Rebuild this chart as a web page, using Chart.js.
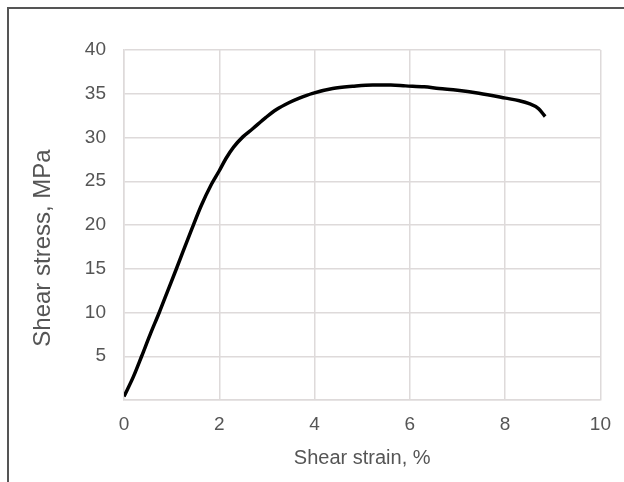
<!DOCTYPE html>
<html>
<head>
<meta charset="utf-8">
<script src="https://cdn.jsdelivr.net/npm/chart.js@4/dist/chart.umd.min.js"></script>
<style>
html,body{margin:0;padding:0;background:#fff;}
#wrap{width:624px;height:482px;position:relative;}
</style>
</head>
<body>
<div id="wrap"><canvas id="c" width="624" height="482"></canvas></div>
<script>
const strain = [0, 0.2, 0.37, 0.55, 0.74, 0.92, 1.1, 1.42, 1.62, 1.83, 2.0, 2.14, 2.3, 2.5, 2.7, 2.98, 3.2, 3.47, 3.68, 3.96, 4.38, 4.8, 5.22, 5.6, 5.91, 6.3, 6.61, 7.0, 7.45, 8.01, 8.3, 8.49, 8.7, 8.84];
const stress = [0.4, 2.7, 5, 7.5, 10, 12.5, 15, 19.5, 22.2, 24.6, 26.2, 27.6, 28.9, 30.1, 31.0, 32.3, 33.2, 34.0, 34.5, 35.05, 35.6, 35.85, 36.0, 36.0, 35.9, 35.8, 35.6, 35.4, 35.05, 34.5, 34.2, 33.9, 33.3, 32.4];
const xTicks = [0, 2, 4, 6, 8, 10];
const yTicks = [5, 10, 15, 20, 25, 30, 35, 40];
const xTitle = 'Shear strain, %';
const yTitle = 'Shear stress, MPa';

const fam = "'Liberation Sans', Arial, sans-serif";
const tickFont = {family: fam, size: 19};
const xTitleFont = {family: fam, size: 20};
const yTitleSize = 24;
const gridColor = '#dedada';
const textColor = '#555555';

const framePlugin = {
  id: 'frame',
  beforeDraw(chart) {
    const ctx = chart.ctx;
    ctx.save();
    ctx.fillStyle = '#ffffff';
    ctx.fillRect(0, 0, chart.width, chart.height);
    ctx.strokeStyle = '#555555';
    ctx.lineWidth = 2;
    ctx.beginPath();
    ctx.moveTo(8, chart.height);
    ctx.lineTo(8, 8);
    ctx.lineTo(chart.width, 8);
    ctx.stroke();
    ctx.restore();
  },
  afterDraw(chart) {
    // y-axis title, placed slightly below the axis centre as in the reference
    const ctx = chart.ctx;
    const ys = chart.scales.y;
    const cy = (ys.top + ys.bottom) / 2 + 23;
    ctx.save();
    ctx.translate(43, cy);
    ctx.rotate(-Math.PI / 2);
    ctx.font = yTitleSize + 'px ' + fam;
    ctx.fillStyle = textColor;
    ctx.textAlign = 'center';
    ctx.textBaseline = 'middle';
    ctx.fillText(yTitle, 0, 0);
    ctx.restore();
  }
};

const pts = strain.map((s, i) => ({x: s, y: stress[i]}));

new Chart(document.getElementById('c'), {
  type: 'scatter',
  data: {
    datasets: [{
      data: pts,
      showLine: true,
      borderColor: '#000000',
      borderWidth: 3.5,
      pointRadius: 0,
      cubicInterpolationMode: 'monotone'
    }]
  },
  options: {
    responsive: false,
    animation: false,
    layout: {padding: {left: 25, right: 22, top: 50, bottom: 0}},
    plugins: {legend: {display: false}, tooltip: {enabled: false}},
    scales: {
      x: {
        type: 'linear', min: 0, max: 10,
        afterBuildTicks(s) { s.ticks = xTicks.map(v => ({value: v})); },
        afterFit(s) { s.height = 82; },
        grid: {color: gridColor, lineWidth: 1.5, drawTicks: false},
        border: {color: gridColor, width: 1.5},
        ticks: {font: tickFont, color: textColor, padding: 13, maxRotation: 0},
        title: {display: true, text: xTitle, font: xTitleFont, color: textColor, padding: {top: 4, bottom: 12}}
      },
      y: {
        type: 'linear', min: 0, max: 40,
        afterBuildTicks(s) { s.ticks = [0].concat(yTicks).map(v => ({value: v})); },
        afterFit(s) { s.width = 99; },
        grid: {color: gridColor, lineWidth: 1.5, drawTicks: false},
        border: {color: gridColor, width: 1.5},
        ticks: {font: tickFont, color: textColor, padding: 18, callback: v => v === 0 ? '' : v},
        title: {display: false, text: yTitle}
      }
    }
  },
  plugins: [framePlugin]
});
</script>
</body>
</html>
